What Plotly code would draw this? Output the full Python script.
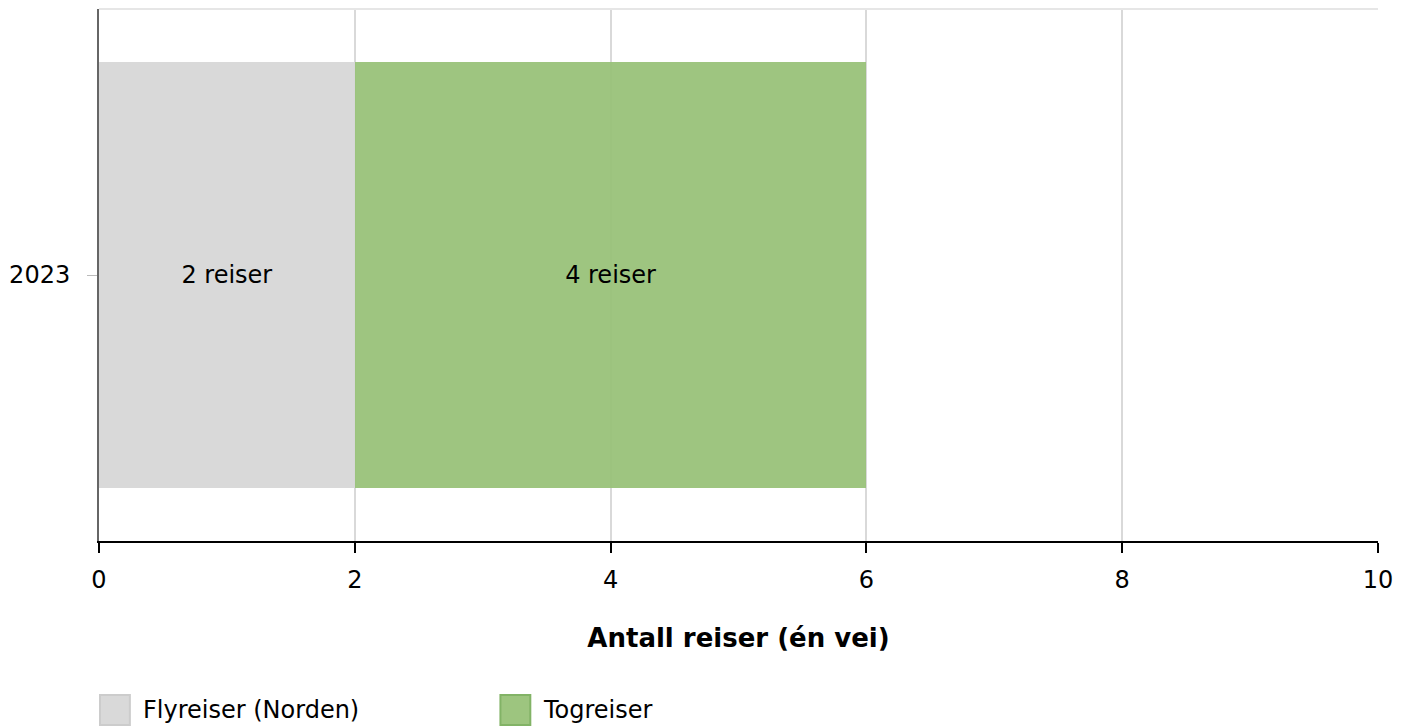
import plotly.graph_objects as go

categories = ["2023"]
series_names = ["Flyreiser (Norden)", "Togreiser"]
fly_values = [2]
tog_values = [4]
fly_labels = ["2 reiser"]
tog_labels = ["4 reiser"]
x_ticks = [0, 2, 4, 6, 8, 10]

colors = ["rgba(215,215,215,0.95)", "rgba(153,194,121,0.95)"]
swatch_colors = ["#d9d9d9", "#9dc57f"]
borders = ["#cccccc", "#82b366"]
FONT = "DejaVu Sans, Verdana, sans-serif"

fig = go.Figure()
for name, vals, labels, c in zip(series_names, [fly_values, tog_values], [fly_labels, tog_labels], colors):
    fig.add_trace(go.Bar(
        y=categories, x=vals, orientation="h", name=name,
        marker=dict(color=c, line=dict(width=0)),
        text=labels, textposition="inside", insidetextanchor="middle",
        textfont=dict(color="#000000", size=24, family=FONT),
        showlegend=False, width=0.8, hoverinfo="skip",
    ))

# plot area in figure pixels (for manual legend placement)
L, T, PW, PH = 94, 9, 1284, 532
def px(x):
    return (x - L) / PW
def py(y):
    return (T + PH - y) / PH

shapes = [dict(type="line", xref="paper", yref="paper", x0=0, x1=1, y0=1, y1=1,
               line=dict(color="#e6e6e6", width=2))]
annotations = []
legend_x = [96, 498]
for name, c, b, lx in zip(series_names, swatch_colors, borders, legend_x):
    shapes.append(dict(type="rect", xref="paper", yref="paper",
                       x0=px(lx - 1), x1=px(lx + 29), y0=py(725), y1=py(695),
                       fillcolor=c, line=dict(color=b, width=2)))
    annotations.append(dict(xref="paper", yref="paper", x=px(lx + 40), y=py(710),
                            xanchor="left", yanchor="middle", text=name, showarrow=False,
                            font=dict(size=24, family=FONT, color="#000000")))

fig.update_layout(
    barmode="stack",
    width=1409, height=727,
    margin=dict(l=86, r=39, t=1, b=194),
    plot_bgcolor="white", paper_bgcolor="white",
    font=dict(family=FONT, size=24, color="#000000"),
    showlegend=False,
    xaxis=dict(range=[0, 10], tickvals=x_ticks, showgrid=True, gridcolor="#d9d9d9", gridwidth=2,
               zeroline=False, showline=True, linecolor="#000000", linewidth=2,
               ticks="outside", ticklen=10, tickwidth=2, tickcolor="#000000",
               tickfont=dict(size=24), ticklabelstandoff=6,
               title=dict(text="<b>Antall reiser (én vei)</b>", font=dict(size=26), standoff=36)),
    yaxis=dict(showline=True, linecolor="#666666", linewidth=2, ticks="outside", ticklen=10,
               tickcolor="#bbbbbb", tickwidth=1, tickfont=dict(size=24), showgrid=False,
               ticklabelstandoff=12, range=[-0.5, 0.5]),
    shapes=shapes,
    annotations=annotations,
)

fig.write_html("out.html")
